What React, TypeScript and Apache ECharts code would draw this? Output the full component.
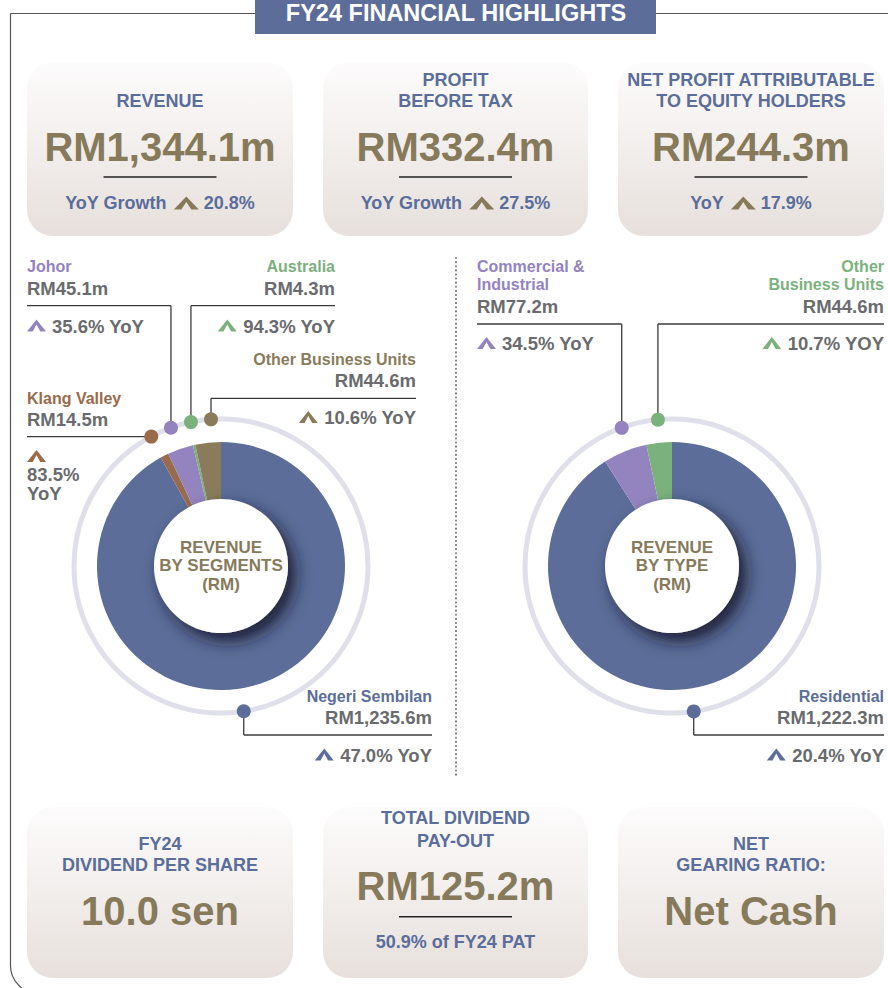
import React, { useEffect, useRef } from 'react';
import * as echarts from 'echarts';

// ---------------- DATA ----------------
const TITLE = 'FY24 FINANCIAL HIGHLIGHTS';

const KPI_TITLES = [
  ['REVENUE'],
  ['PROFIT', 'BEFORE TAX'],
  ['NET PROFIT ATTRIBUTABLE', 'TO EQUITY HOLDERS'],
  ['FY24', 'DIVIDEND PER SHARE'],
  ['TOTAL DIVIDEND', 'PAY-OUT'],
  ['NET', 'GEARING RATIO:'],
];
const KPI_VALUES = ['RM1,344.1m', 'RM332.4m', 'RM244.3m', '10.0 sen', 'RM125.2m', 'Net Cash'];
const KPI_NOTE_LABELS = ['YoY Growth', 'YoY Growth', 'YoY', '', '50.9% of FY24 PAT', ''];
const KPI_GROWTH: (number | null)[] = [20.8, 27.5, 17.9, null, null, null];

const SEGMENT_NAMES = ['Negeri Sembilan', 'Klang Valley', 'Johor', 'Australia', 'Other Business Units'];
const SEGMENT_VALUES = [1235.6, 14.5, 45.1, 4.3, 44.6];
const SEGMENT_YOY = [47.0, 83.5, 35.6, 94.3, 10.6];

const TYPE_NAMES = ['Residential', 'Commercial & Industrial', 'Other Business Units'];
const TYPE_VALUES = [1222.3, 77.2, 44.6];
const TYPE_YOY = [20.4, 34.5, 10.7];

const DONUT_TITLES = [['REVENUE', 'BY SEGMENTS', '(RM)'], ['REVENUE', 'BY TYPE', '(RM)']];

// ---------------- STYLES / LAYOUT ----------------
const SEGMENT_COLORS = ['#5b6d98', '#9a6a4c', '#9383bf', '#7bb17d', '#8a7c5b'];
const TYPE_COLORS = ['#5b6d98', '#9383bf', '#7bb17d'];
const BLUE = '#5a6d9b';
const OLIVE = '#867a5b';
const GREY = '#6a6b6e';
const LINE = '#3c3c3c';
const FONT = '"Liberation Sans", Arial, Helvetica, sans-serif';

const CARD_LAYOUT = [
  { x: 27, y: 62, w: 266, h: 174, titleY: [100.5], valueY: 146.5, ruleY: 177, noteY: 203 },
  { x: 323, y: 62, w: 265, h: 174, titleY: [79.5, 100.5], valueY: 146.5, ruleY: 177, noteY: 203 },
  { x: 618, y: 62, w: 266, h: 174, titleY: [79.5, 100.5], valueY: 146.5, ruleY: 177, noteY: 203 },
  { x: 27, y: 807, w: 266, h: 171, titleY: [844, 864.5], valueY: 910.5, ruleY: null, noteY: null },
  { x: 323, y: 807, w: 265, h: 171, titleY: [818, 840.5], valueY: 886, ruleY: 916.7, noteY: 942 },
  { x: 618, y: 807, w: 266, h: 171, titleY: [843.5, 864.5], valueY: 910.5, ruleY: null, noteY: null },
];

const DONUTS = [
  { cx: 221, cy: 566 },
  { cx: 672, cy: 566 },
];
const RING_R = 147;

type Callout = {
  angle: number; align: 'left' | 'right'; x: number; nameY: number[]; valueY: number;
  lineY: number | null; yoyY?: number; yoyStack?: number[]; caretY?: number; lines?: string[]; yoyWord: string;
};

const SEGMENT_CALLOUTS: Callout[] = [
  { angle: 171.1, align: 'right', x: 432, nameY: [696], valueY: 717.5, lineY: 735, yoyY: 755, yoyWord: 'YoY' },
  { angle: 331.7, align: 'left', x: 27, nameY: [398], valueY: 419, lineY: null, yoyStack: [474.5, 493.5], caretY: 450, yoyWord: 'YoY' },
  { angle: 340.1, align: 'left', x: 27, nameY: [266.7], valueY: 288, lineY: 305.7, yoyY: 326, yoyWord: 'YoY' },
  { angle: 348.2, align: 'right', x: 335, nameY: [266.7], valueY: 288, lineY: 305.7, yoyY: 326, yoyWord: 'YoY' },
  { angle: 356.1, align: 'right', x: 416, nameY: [359], valueY: 380, lineY: 398.3, yoyY: 417.5, yoyWord: 'YoY' },
];
const TYPE_CALLOUTS: Callout[] = [
  { angle: 171.5, align: 'right', x: 884, nameY: [696], valueY: 717.5, lineY: 735, yoyY: 755, yoyWord: 'YoY' },
  { angle: 340, align: 'left', x: 477, nameY: [266.5, 284.5], valueY: 306.7, lineY: 324, yoyY: 343.5, lines: ['Commercial &', 'Industrial'], yoyWord: 'YoY' },
  { angle: 354.5, align: 'right', x: 884, nameY: [266.5, 284.5], valueY: 306.7, lineY: 324, yoyY: 343.5, lines: ['Other', 'Business Units'], yoyWord: 'YOY' },
];

const NAME_SIZE = 16;
const VAL_SIZE = 18.5;

// ---------------- helpers ----------------
let measureCtx: CanvasRenderingContext2D | null = null;
function measure(text: string, size: number) {
  if (!measureCtx) measureCtx = document.createElement('canvas').getContext('2d');
  if (!measureCtx) return text.length * size * 0.55;
  measureCtx.font = `bold ${size}px ${FONT}`;
  return measureCtx.measureText(text).width;
}

function txt(text: string, x: number, y: number, size: number, color: string, align = 'center', z = 5) {
  return {
    type: 'text', x, y, z, silent: true,
    style: { text, fill: color, fontSize: size, fontWeight: 'bold', fontFamily: FONT, textAlign: align, textVerticalAlign: 'middle' },
  };
}
function ln(x1: number, y1: number, x2: number, y2: number, color = LINE, w = 1.3, z = 3) {
  return { type: 'line', z, silent: true, shape: { x1, y1, x2, y2 }, style: { stroke: color, lineWidth: w } };
}
function caret(x: number, y: number, w: number, h: number, color: string, z = 5) {
  const t = w * 0.3;
  const points = [
    [x, y + h], [x + w / 2, y], [x + w, y + h], [x + w - t, y + h], [x + w / 2, y + h * 0.42], [x + t, y + h],
  ];
  return { type: 'polygon', z, silent: true, shape: { points }, style: { fill: color } };
}
function fmtRM(v: number) {
  return 'RM' + v.toLocaleString('en-US', { minimumFractionDigits: 1, maximumFractionDigits: 1 }) + 'm';
}

function buildCallouts(cx: number, cy: number, callouts: Callout[], names: string[], values: number[], yoys: number[], colors: string[]) {
  const els: any[] = [];
  callouts.forEach((co, i) => {
    const a = (co.angle * Math.PI) / 180;
    const dx = cx + RING_R * Math.sin(a);
    const dy = cy - RING_R * Math.cos(a);
    const color = colors[i];
    const lines = co.lines || [names[i]];
    lines.forEach((t, k) => els.push(txt(t, co.x, co.nameY[k], NAME_SIZE, color, co.align)));
    els.push(txt(fmtRM(values[i]), co.x, co.valueY, VAL_SIZE, GREY, co.align));
    if (co.lineY == null) {
      els.push(ln(co.x, dy, dx, dy));
    } else {
      els.push(ln(co.x, co.lineY, dx, co.lineY));
      els.push(ln(dx, co.lineY, dx, dy));
    }
    els.push({ type: 'circle', z: 4, silent: true, shape: { cx: dx, cy: dy, r: 7 }, style: { fill: color } });
    const cw = 19, ch = 12, gap = 6;
    if (co.yoyStack) {
      els.push(caret(co.x, co.caretY as number, cw, ch, color));
      els.push(txt(yoys[i].toFixed(1) + '%', co.x, co.yoyStack[0], VAL_SIZE, GREY, 'left'));
      els.push(txt(co.yoyWord, co.x, co.yoyStack[1], VAL_SIZE, GREY, 'left'));
    } else {
      const y = co.yoyY as number;
      const s = yoys[i].toFixed(1) + '% ' + co.yoyWord;
      if (co.align === 'left') {
        els.push(caret(co.x, y - 6.5, cw, ch, color));
        els.push(txt(s, co.x + cw + gap, y, VAL_SIZE, GREY, 'left'));
      } else {
        const w = measure(s, VAL_SIZE);
        els.push(caret(co.x - w - gap - cw, y - 6.5, cw, ch, color));
        els.push(txt(s, co.x, y, VAL_SIZE, GREY, 'right'));
      }
    }
  });
  return els;
}

function buildGraphic() {
  const els: any[] = [];
  // frame
  els.push({
    type: 'rect', z: 0, silent: true,
    shape: { x: 10.5, y: 13.5, width: 900, height: 980, r: [0, 0, 0, 28] },
    style: { fill: 'none', stroke: '#555', lineWidth: 1.2 },
  });
  // title box
  els.push({ type: 'rect', z: 1, silent: true, shape: { x: 255, y: 0, width: 401, height: 34 }, style: { fill: '#5b6d98' } });
  els.push(txt(TITLE, 456, 13, 23.5, '#ffffff', 'center', 2));

  // cards
  CARD_LAYOUT.forEach((c, i) => {
    const cx = c.x + c.w / 2;
    els.push({
      type: 'rect', z: 1, silent: true,
      shape: { x: c.x, y: c.y, width: c.w, height: c.h, r: 26 },
      style: {
        fill: new echarts.graphic.LinearGradient(0, 0, 0, 1, [
          { offset: 0, color: '#fdfcfc' },
          { offset: 1, color: '#e7e0dc' },
        ]),
      },
    });
    KPI_TITLES[i].forEach((t, k) => els.push(txt(t, cx, c.titleY[k], 18, BLUE)));
    els.push(txt(KPI_VALUES[i], cx, c.valueY, 40, OLIVE));
    if (c.ruleY != null) els.push(ln(cx - 56.5, c.ruleY, cx + 56.5, c.ruleY, '#222', 1.4));
    if (c.noteY != null) {
      const g = KPI_GROWTH[i];
      if (g == null) {
        els.push(txt(KPI_NOTE_LABELS[i], cx, c.noteY, 18, BLUE));
      } else {
        const pre = KPI_NOTE_LABELS[i];
        const suf = g.toFixed(1) + '%';
        const wp = measure(pre, 18), ws = measure(suf, 18);
        const cw = 25, ch = 13, g1 = 7, g2 = 5;
        const total = wp + g1 + cw + g2 + ws;
        const x0 = cx - total / 2;
        els.push(txt(pre, x0, c.noteY, 18, BLUE, 'left'));
        els.push(caret(x0 + wp + g1, c.noteY - 6.5, cw, ch, OLIVE));
        els.push(txt(suf, x0 + wp + g1 + cw + g2, c.noteY, 18, BLUE, 'left'));
      }
    }
  });

  // divider
  els.push({
    type: 'line', z: 1, silent: true, shape: { x1: 456, y1: 258, x2: 456, y2: 777 },
    style: { stroke: '#777', lineWidth: 2, lineDash: [0.1, 4], lineCap: 'round' },
  });

  // donuts decorations
  DONUTS.forEach((d, i) => {
    els.push({ type: 'circle', z: 1, silent: true, shape: { cx: d.cx, cy: d.cy, r: RING_R }, style: { fill: 'none', stroke: '#e0e0ea', lineWidth: 5 } });
    els.push({
      type: 'circle', z: 10, silent: true, shape: { cx: d.cx, cy: d.cy, r: 67 },
      style: { fill: '#ffffff', shadowBlur: 16, shadowOffsetX: 7, shadowOffsetY: 8, shadowColor: 'rgba(18,22,45,0.9)' },
    });
    const ys = [547, 565.5, 584];
    DONUT_TITLES[i].forEach((t, k) => els.push(txt(t, d.cx, ys[k], 17, OLIVE, 'center', 11)));
  });

  els.push(...buildCallouts(DONUTS[0].cx, DONUTS[0].cy, SEGMENT_CALLOUTS, SEGMENT_NAMES, SEGMENT_VALUES, SEGMENT_YOY, SEGMENT_COLORS));
  els.push(...buildCallouts(DONUTS[1].cx, DONUTS[1].cy, TYPE_CALLOUTS, TYPE_NAMES, TYPE_VALUES, TYPE_YOY, TYPE_COLORS));
  return els;
}

function pieSeries(center: number[], names: string[], values: number[], colors: string[]) {
  return {
    type: 'pie',
    center,
    radius: [60, 124],
    startAngle: 90,
    clockwise: true,
    silent: true,
    label: { show: false },
    labelLine: { show: false },
    emphasis: { disabled: true },
    itemStyle: { borderWidth: 0 },
    data: names.map((n, i) => ({ name: n, value: values[i], itemStyle: { color: colors[i] } })),
  };
}

export default function App() {
  const ref = useRef<HTMLDivElement>(null);
  useEffect(() => {
    document.body.style.margin = '0';
    if (!ref.current) return;
    const chart = echarts.init(ref.current, undefined, { renderer: 'svg' });
    chart.setOption({
      animation: false,
      backgroundColor: '#ffffff',
      series: [
        pieSeries([DONUTS[0].cx, DONUTS[0].cy], SEGMENT_NAMES, SEGMENT_VALUES, SEGMENT_COLORS),
        pieSeries([DONUTS[1].cx, DONUTS[1].cy], TYPE_NAMES, TYPE_VALUES, TYPE_COLORS),
      ],
      graphic: { elements: buildGraphic() },
    });
    return () => chart.dispose();
  }, []);
  return <div ref={ref} style={{ width: 888, height: 988 }} />;
}
